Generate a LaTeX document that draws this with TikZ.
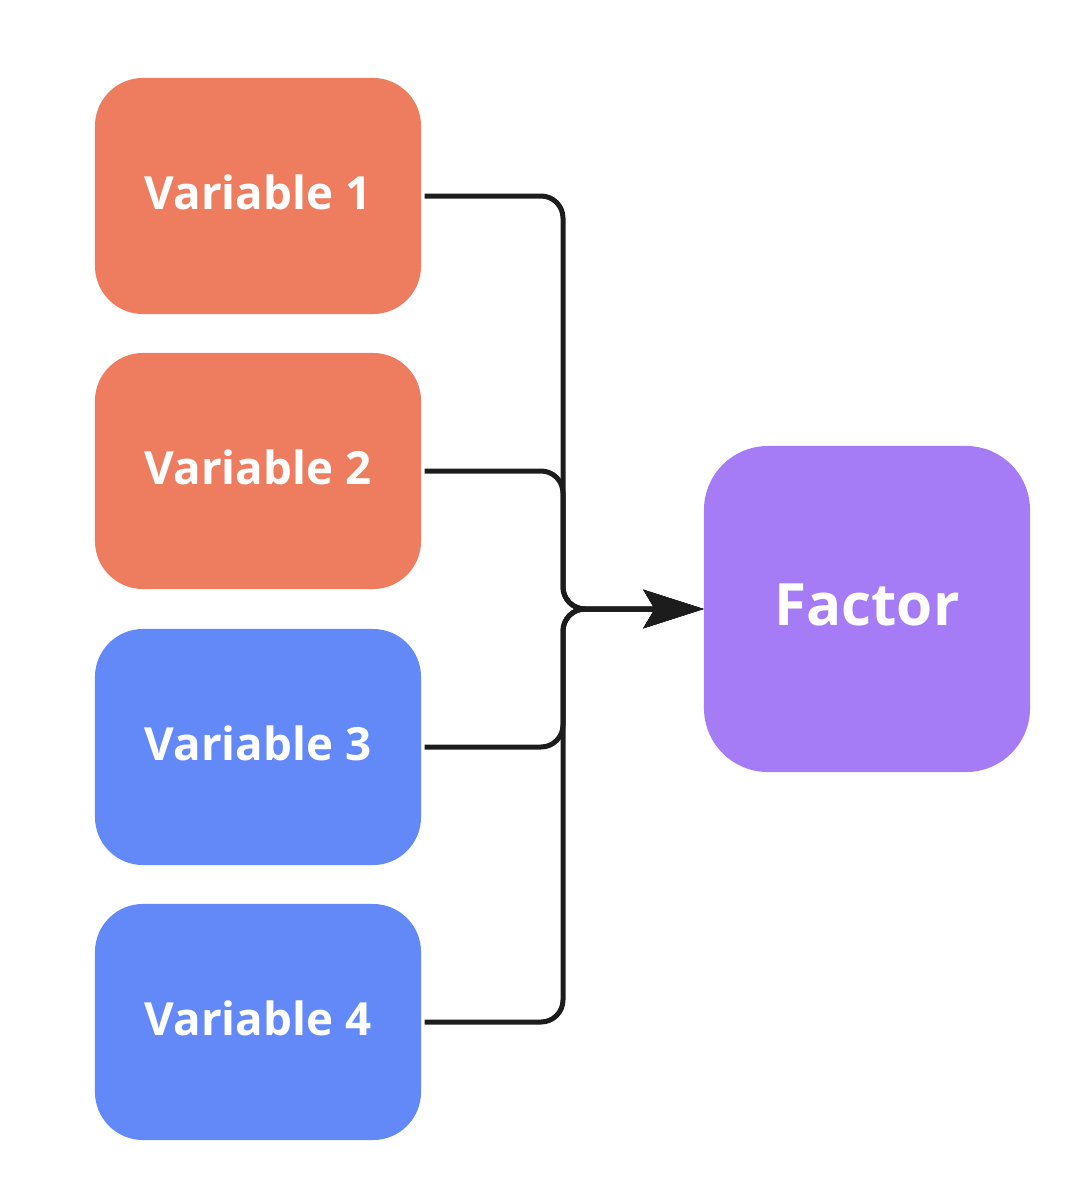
\documentclass[tikz,border=0pt]{standalone}
\usepackage{fontspec}
\setmainfont{Open Sans}
\usepackage{xcolor}
\usetikzlibrary{arrows.meta,positioning}
\definecolor{varorange}{HTML}{EE7C5F}
\definecolor{varblue}{HTML}{6289F7}
\definecolor{factorpurple}{HTML}{A57CF6}
\definecolor{linkgray}{HTML}{1C1C1C}
\tikzset{varbox/.style={rectangle,rounded corners=1.2cm,minimum width=8.15cm,minimum height=5.9cm,
    text=white,font=\fontsize{32.5}{38}\selectfont\bfseries,inner sep=0pt,text depth=0.2cm},
  factorbox/.style={rectangle,rounded corners=1.6cm,minimum width=8.15cm,minimum height=8.15cm,
    fill=factorpurple,text=white,font=\fontsize{41.5}{48}\selectfont\bfseries,inner sep=0pt,text depth=0.2cm},
  link/.style={draw=linkgray,line width=0.125cm,rounded corners=0.55cm}}

\begin{document}
\begin{tikzpicture}[x=0.025cm,y=-0.025cm,>={Stealth[length=1.5cm,width=0.95cm,inset=0.28cm]}]
    \useasboundingbox (0,0) rectangle (1084,1184);
    \node[factorbox] (factor) at (867,609) {Factor};
    \coordinate (trunk) at (563,609);
    \foreach \idx/\ypos/\col in {1/196/varorange,2/471/varorange,3/747/varblue,4/1022/varblue} {
      \node[varbox,fill=\col] (var\idx) at (258,\ypos) {Variable \idx};
      \draw[link,->] ([xshift=0.08cm]var\idx.east) -| (trunk) -- (factor.west);
    }
  \end{tikzpicture}
\end{document}
